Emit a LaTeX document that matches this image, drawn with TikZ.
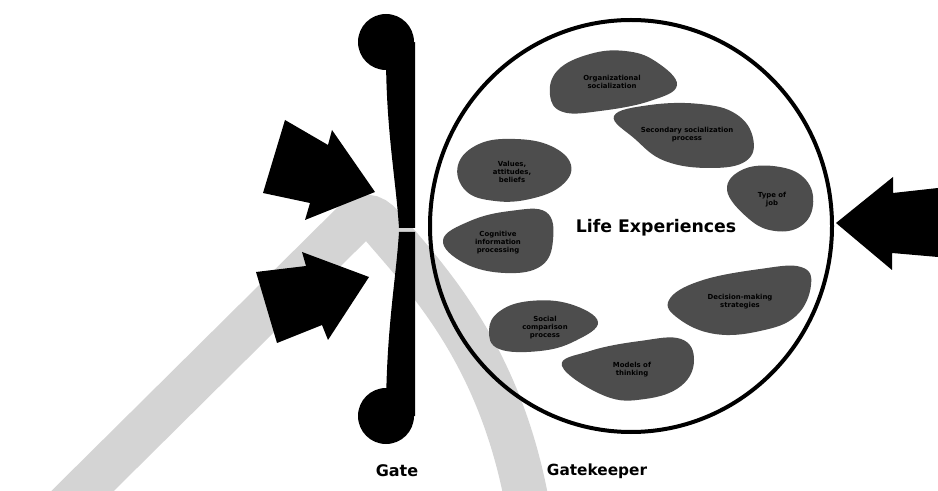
\documentclass[tikz,border=0pt]{standalone}
\usepackage{fontspec}
\setmainfont{DejaVu Sans}
\definecolor{blobgray}{HTML}{4D4D4D}
\definecolor{wmgray}{HTML}{D4D4D4}
\begin{document}
\begin{tikzpicture}[x=0.75pt,y=-0.75pt,
  blob/.style={fill=blobgray, draw=none},
  blobtext/.style={font=\bfseries\fontsize{5.2}{6}\selectfont, align=center, text=black, inner sep=0pt},
  bigarrow/.style={fill=black, draw=none},
  label/.style={font=\bfseries\fontsize{12}{14}\selectfont, text=black}]
\useasboundingbox (0,0) rectangle (938,491);
% watermark band
\begin{scope}
\clip (0,0) rectangle (938,491);
\draw[wmgray, line width=33pt] (25,548) -- (352,224) .. controls (362,214) and (372,214) .. (382,226) .. controls (430,282) and (505,360) .. (530,520);
\end{scope}
% gate
\fill (386,42) circle[radius=21pt];
\fill (386,416) circle[radius=21pt];
\fill (415,42) -- (415,228) -- (399,228) .. controls (396,180) and (386,130) .. (386,55) -- cycle;
\fill (415,232) -- (415,416) -- (386,416) .. controls (386,330) and (396,280) .. (399,232) -- cycle;
% arrows
\fill[bigarrow] (285,120) -- (328,145) -- (332,130) -- (375,192) -- (305,220) -- (310,203) -- (263,193) -- cycle;
\fill[bigarrow] (256,272) -- (306,266) -- (302,252) -- (369,277) -- (328,340) -- (322,325) -- (277,343) -- cycle;
\fill[bigarrow] (836,223) -- (893,177) -- (893,193) -- (938,188) -- (938,257) -- (892,253) -- (892,270) -- cycle;
% circle
\draw[line width=3pt] (631,226) ellipse[x radius=150.75pt, y radius=154.5pt];
% blobs
\fill[blob] plot[smooth cycle, tension=0.7] coordinates {(550,95) (558,70) (590,54) (625,51) (655,61) (677,85) (650,101) (600,111) (563,112)};
\fill[blob] plot[smooth cycle, tension=0.7] coordinates {(614,116) (650,105) (700,104) (736,114) (753,138) (746,161) (710,168) (665,161) (635,139)};
\fill[blob] plot[smooth cycle, tension=0.7] coordinates {(458,165) (479,144) (515,139) (551,146) (571,165) (561,186) (530,199) (495,201) (466,191)};
\fill[blob] plot[smooth cycle, tension=0.7] coordinates {(727,190) (744,169) (780,167) (806,180) (813,205) (801,226) (775,231) (749,219)};
\fill[blob] plot[smooth cycle, tension=0.7] coordinates {(443,240) (470,221) (510,211) (546,212) (553,240) (541,266) (505,273) (464,263)};
\fill[blob] plot[smooth cycle, tension=0.7] coordinates {(669,300) (700,281) (760,269) (801,267) (811,285) (796,316) (760,331) (715,334) (679,319)};
\fill[blob] plot[smooth cycle, tension=0.7] coordinates {(489,330) (500,311) (530,301) (570,304) (598,322) (575,341) (540,351) (499,349)};
\fill[blob] plot[smooth cycle, tension=0.7] coordinates {(562,366) (590,351) (640,341) (681,339) (694,360) (681,386) (645,399) (605,396)};
% blob texts
\node[blobtext] (org) at (612,82) {Organizational\\socialization};
\node[blobtext] (sec) at (687,135) {Secondary socialization\\process};
\node[blobtext] (val) at (512,172) {Values,\\attitudes,\\beliefs};
\node[blobtext] (job) at (772,200) {Type of\\job};
\node[blobtext] (cog) at (498,243) {Cognitive\\information\\processing};
\node[blobtext] (dec) at (740,302) {Decision-making\\strategies};
\node[blobtext] (soc) at (545,328) {Social\\comparison\\process};
\node[blobtext] (mod) at (632,370) {Models of\\thinking};
% labels
\node[font=\bfseries\fontsize{13}{15}\selectfont] (life) at (656,228) {Life Experiences};
\node[label] (gate) at (397,471) {Gate};
\node[label, font=\bfseries\fontsize{11.5}{14}\selectfont] (keeper) at (597,471) {Gatekeeper};
\end{tikzpicture}
\end{document}
